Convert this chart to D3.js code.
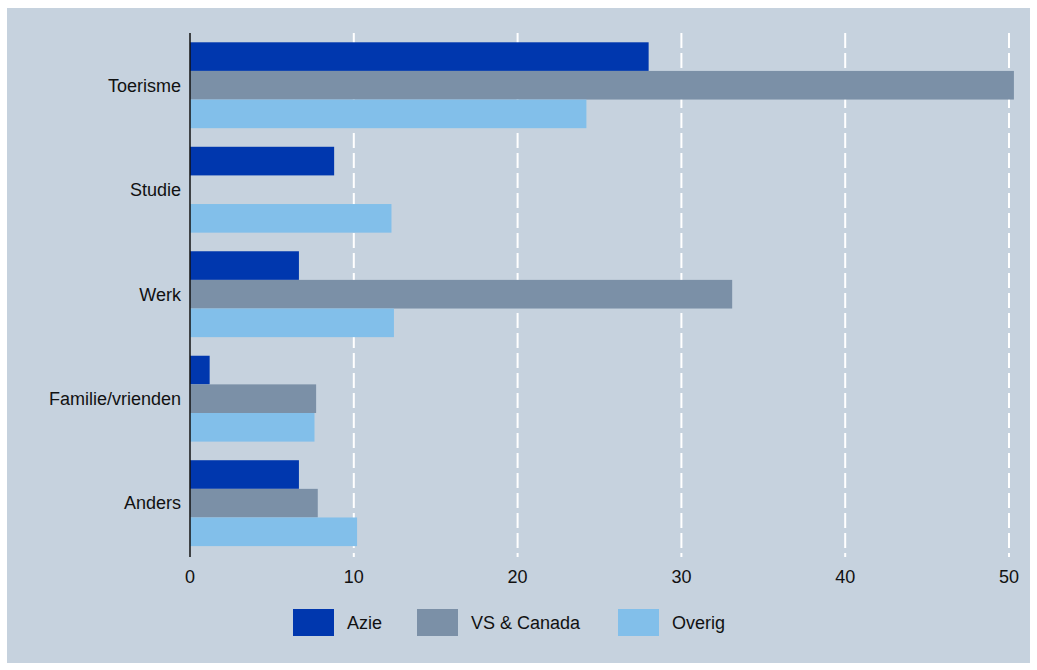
<!DOCTYPE html>
<html>
<head>
<meta charset="utf-8">
<script src="https://cdn.jsdelivr.net/npm/d3@7"></script>
<style>
  body { margin: 0; background: #ffffff; }
  text { font-family: "Liberation Sans", Arial, sans-serif; fill: #111; }
</style>
</head>
<body>
<div id="chart" style="width:1037px;height:670px;"></div>
<script>

const categories = ["Toerisme", "Studie", "Werk", "Familie/vrienden", "Anders"];
const seriesNames = ["Azie", "VS & Canada", "Overig"];
const azie = [28.0, 8.8, 6.65, 1.2, 6.65];
const vsCanada = [50.3, null, 33.1, 7.7, 7.8];
const overig = [24.2, 12.3, 12.45, 7.6, 10.2];
const xTicks = [0, 10, 20, 30, 40, 50];
const colors = ["#0037ae", "#7b90a7", "#82bfea"];

const width = 1037;
const height = 670;

const margin = { top: 33, left: 190, right: 28, bottom: 113 };

const svg = d3.select("#chart")
    .append("svg")
    .attr("width", width)
    .attr("height", height);

// panel background
svg.append("rect")
    .attr("x", 7)
    .attr("y", 8)
    .attr("width", 1023)
    .attr("height", 655)
    .attr("fill", "#c6d2de");

const xScale = d3.scaleLinear()
    .domain([0, 50])
    .range([margin.left, margin.left + 50 * 16.38]);

const yScale = d3.scaleBand()
    .domain(categories)
    .range([margin.top, 555.4])
    .paddingInner(0.178)
    .paddingOuter(0.089);

const ySub = d3.scaleBand()
    .domain(seriesNames)
    .range([0, yScale.bandwidth()]);

const axisBottom = 557;

// grid lines
svg.selectAll(".grid")
    .data(xTicks.filter(function(d) { return d > 0; }))
    .enter()
    .append("line")
        .attr("class", "grid")
        .attr("x1", function(d) { return xScale(d); })
        .attr("x2", function(d) { return xScale(d); })
        .attr("y1", margin.top)
        .attr("y2", axisBottom)
        .attr("stroke", "#ffffff")
        .attr("stroke-width", 2)
        .attr("stroke-dasharray", "15,5");

const rows = categories.map(function(c, i) {
    return { cat: c, values: [azie[i], vsCanada[i], overig[i]] };
});

const groups = svg.selectAll(".group")
    .data(rows)
    .enter()
    .append("g")
        .attr("transform", function(d) { return "translate(0," + yScale(d.cat) + ")"; });

groups.selectAll("rect")
    .data(function(d) {
        return d.values.map(function(v, j) { return { name: seriesNames[j], value: v, idx: j }; })
            .filter(function(e) { return e.value !== null; });
    })
    .enter()
    .append("rect")
        .attr("x", xScale(0))
        .attr("y", function(d) { return ySub(d.name); })
        .attr("width", function(d) { return xScale(d.value) - xScale(0); })
        .attr("height", ySub.bandwidth())
        .attr("fill", function(d) { return colors[d.idx]; });

// category labels
svg.selectAll(".catLabel")
    .data(categories)
    .enter()
    .append("text")
        .attr("x", margin.left - 9)
        .attr("y", function(d) { return yScale(d) + yScale.bandwidth() / 2; })
        .attr("dy", "0.35em")
        .attr("text-anchor", "end")
        .attr("font-size", 18)
        .text(function(d) { return d; });

// axis line
svg.append("line")
    .attr("x1", xScale(0))
    .attr("x2", xScale(0))
    .attr("y1", margin.top)
    .attr("y2", axisBottom)
    .attr("stroke", "#111")
    .attr("stroke-width", 1.5);

// x tick labels
svg.selectAll(".tick")
    .data(xTicks)
    .enter()
    .append("text")
        .attr("x", function(d) { return xScale(d); })
        .attr("y", 577)
        .attr("dy", "0.35em")
        .attr("text-anchor", "middle")
        .attr("font-size", 18)
        .text(function(d) { return d; });

// legend
const legendX = [293, 417, 618];
const legend = svg.selectAll(".legend")
    .data(seriesNames)
    .enter()
    .append("g")
        .attr("transform", function(d, i) { return "translate(" + legendX[i] + ",609)"; });

legend.append("rect")
    .attr("width", 41)
    .attr("height", 27)
    .attr("fill", function(d, i) { return colors[i]; });

legend.append("text")
    .attr("x", 54)
    .attr("y", 14)
    .attr("dy", "0.35em")
    .attr("font-size", 18)
    .text(function(d) { return d; });

</script>
</body>
</html>
